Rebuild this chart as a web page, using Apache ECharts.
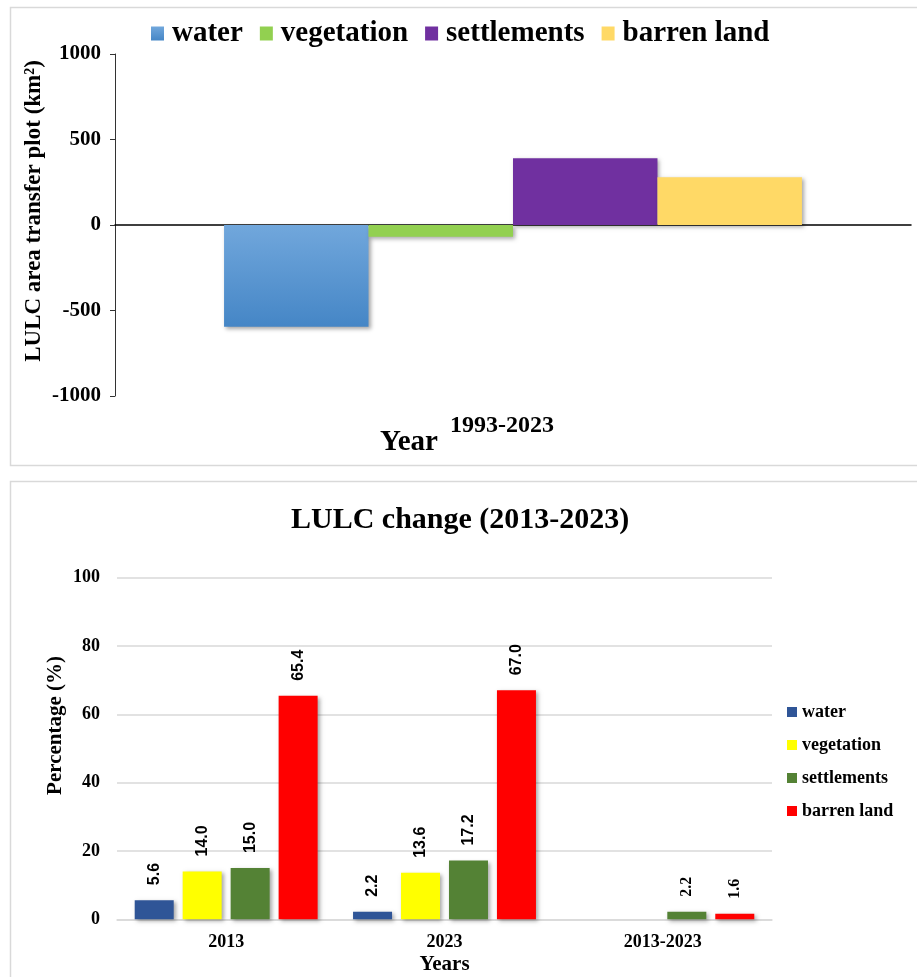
<!DOCTYPE html>
<html>
<head>
<meta charset="utf-8">
<script src="https://cdn.jsdelivr.net/npm/echarts@6/dist/echarts.min.js"></script>
<style>
  html, body { margin: 0; padding: 0; background: #ffffff; }
  #chart { width: 917px; height: 977px; }
</style>
</head>
<body>
<div id="chart"></div>
<script>
// ---- Net area transfer 1993-2023 (km²) ----
const transferPeriod = ['1993-2023'];
const transferClasses = ['water', 'vegetation', 'settlements', 'barren land'];
const transferValues = [-595, -68, 390, 279];

// ---- LULC share by year (%) ----
const changeCategories = ['2013', '2023', '2013-2023'];
const waterPct = [5.6, 2.2, 0];
const vegetationPct = [14.0, 13.6, 0];
const settlementsPct = [15.0, 17.2, 2.2];
const barrenPct = [65.4, 67.0, 1.6];

const SERIF = '"Liberation Serif", "Times New Roman", serif';
const SANS = '"Liberation Sans", Arial, sans-serif';

const topColors = [
  { type: 'linear', x: 0, y: 0, x2: 0, y2: 1,
    colorStops: [{ offset: 0, color: '#71a7dc' }, { offset: 1, color: '#4586c6' }] },
  '#92d050', '#7030a0', '#ffd966'
];
const bottomColors = ['#2f5597', '#ffff00', '#548235', '#ff0000'];
const pctSeries = [waterPct, vegetationPct, settlementsPct, barrenPct];

const shadow = { shadowColor: 'rgba(0,0,0,0.35)', shadowBlur: 4, shadowOffsetX: 2, shadowOffsetY: 2 };

const chart = echarts.init(document.getElementById('chart'), null, { renderer: 'canvas' });

const topSeries = transferClasses.map((name, i) => ({
  name: name + ' (1993-2023)',
  type: 'bar',
  xAxisIndex: 0,
  yAxisIndex: 0,
  barGap: '0%',
  barCategoryGap: '27.4%',
  itemStyle: Object.assign({ color: topColors[i] }, shadow),
  data: [transferValues[i]]
}));

const bottomSeries = transferClasses.map((name, i) => ({
  name: name + ' (2013-2023)',
  type: 'bar',
  xAxisIndex: 1,
  yAxisIndex: 1,
  barWidth: 39,
  barGap: '23%',
  itemStyle: Object.assign({ color: bottomColors[i] }, shadow),
  label: {
    show: true,
    position: 'top',
    rotate: 90,
    align: 'left',
    verticalAlign: 'middle',
    distance: 15,
    fontFamily: SANS,
    fontWeight: 'bold',
    fontSize: 16,
    color: '#000',
    formatter: p => p.value.toFixed(1)
  },
  data: pctSeries[i].map((v, j) => {
    const item = { value: v };
    if (v === 0) item.label = { show: false };
    if (changeCategories[j] === '2013-2023') item.label = Object.assign(item.label || {}, { fontFamily: SERIF });
    return item;
  })
}));

const stripPeriod = name => name.replace(/ \(.*\)$/, '');

chart.setOption({
  animation: false,
  backgroundColor: '#ffffff',
  graphic: [
    { type: 'rect', silent: true, z: -10,
      shape: { x: 10.5, y: 7.5, width: 920, height: 458 },
      style: { fill: 'none', stroke: '#d9d9d9', lineWidth: 1.5 } },
    { type: 'rect', silent: true, z: -10,
      shape: { x: 10.5, y: 481.5, width: 920, height: 520 },
      style: { fill: 'none', stroke: '#d9d9d9', lineWidth: 1.5 } },
    { type: 'text', left: 380, top: 428,
      style: { text: 'Year', font: 'bold 29px ' + SERIF, fill: '#000' } },
    { type: 'text', left: 450, top: 414,
      style: { text: transferPeriod[0], font: 'bold 24px ' + SERIF, fill: '#000' } },
    { type: 'text', left: 291, top: 505,
      style: { text: 'LULC change (2013-2023)', font: 'bold 30px ' + SERIF, fill: '#000' } }
  ],
  legend: [
    {
      data: topSeries.map(s => s.name),
      left: 146, top: 14,
      itemWidth: 13, itemHeight: 14, itemGap: 17,
      icon: 'rect',
      formatter: stripPeriod,
      textStyle: { fontFamily: SERIF, fontWeight: 'bold', fontSize: 29, color: '#000', padding: [0, 0, 0, 3] }
    },
    {
      data: bottomSeries.map(s => s.name),
      orient: 'vertical',
      left: 782, top: 698,
      itemWidth: 10, itemHeight: 10, itemGap: 15,
      icon: 'rect',
      formatter: stripPeriod,
      textStyle: { fontFamily: SERIF, fontWeight: 'bold', fontSize: 18, color: '#000' }
    }
  ],
  grid: [
    { left: 115, right: 6, top: 54, height: 342, outerBoundsMode: 'none' },
    { left: 117, right: 145, top: 577.6, height: 341.7, outerBoundsMode: 'none' }
  ],
  xAxis: [
    {
      type: 'category', gridIndex: 0, data: transferPeriod,
      axisLine: { onZero: true, lineStyle: { color: '#000', width: 1.5 } },
      axisTick: { show: false },
      axisLabel: { show: false }
    },
    {
      type: 'category', gridIndex: 1, data: changeCategories,
      name: 'Years', nameLocation: 'middle', nameGap: 35, nameMoveOverlap: false,
      nameTextStyle: { fontFamily: SERIF, fontWeight: 'bold', fontSize: 21, color: '#000' },
      axisLine: { lineStyle: { color: '#d9d9d9', width: 1.5 } },
      axisTick: { show: false },
      axisLabel: { margin: 14, fontFamily: SERIF, fontWeight: 'bold', fontSize: 18, color: '#000' }
    }
  ],
  yAxis: [
    {
      type: 'value', gridIndex: 0, min: -1000, max: 1000, interval: 500,
      name: 'LULC area transfer plot (km²)', nameLocation: 'middle', nameGap: 69, nameMoveOverlap: false,
      nameTextStyle: { fontFamily: SERIF, fontWeight: 'bold', fontSize: 23, color: '#000', padding: [0, 0, 0, 28] },
      axisLine: { show: true, lineStyle: { color: '#333333', width: 1 } },
      axisTick: { show: true, length: 5, lineStyle: { color: '#333333' } },
      splitLine: { show: false },
      axisLabel: { margin: 14, fontFamily: SERIF, fontWeight: 'bold', fontSize: 21, color: '#000',
                   formatter: v => String(v) }
    },
    {
      type: 'value', gridIndex: 1, min: 0, max: 100, interval: 20,
      name: 'Percentage (%)', nameLocation: 'middle', nameGap: 51, nameMoveOverlap: false,
      nameTextStyle: { fontFamily: SERIF, fontWeight: 'bold', fontSize: 21, color: '#000', padding: [0, 0, 0, 46] },
      axisLine: { show: false },
      axisTick: { show: false },
      splitLine: { lineStyle: { color: '#d9d9d9', width: 1.5 } },
      axisLabel: { margin: 17, fontFamily: SERIF, fontWeight: 'bold', fontSize: 18, color: '#000',
                   formatter: v => String(v) }
    }
  ],
  series: topSeries.concat(bottomSeries)
});
</script>
</body>
</html>
